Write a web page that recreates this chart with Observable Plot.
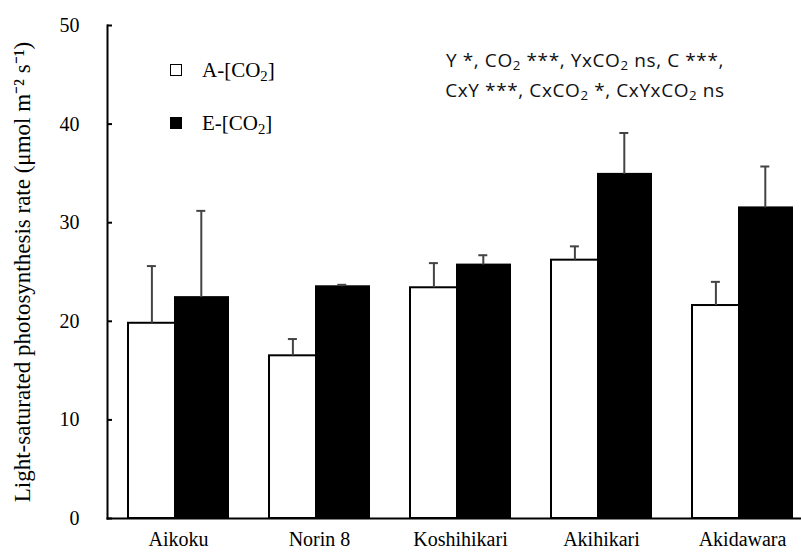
<!DOCTYPE html>
<html><head><meta charset="utf-8">
<script src="https://cdn.jsdelivr.net/npm/d3@7"></script>
<script src="https://cdn.jsdelivr.net/npm/@observablehq/plot@0.6"></script>
<style>
body{margin:0;background:#fff;}
#wrap{position:relative;width:801px;height:554px;}
.legend{position:absolute;left:170px;font-family:"Liberation Serif",serif;font-size:21px;color:#000;display:flex;align-items:center;height:20px;}
.legend .sw{width:10px;height:10px;border:1.5px solid #000;margin-right:20px;box-sizing:content-box;}
sub{font-size:0.7em;vertical-align:-0.25em;line-height:0;}
.note{position:absolute;left:420px;width:330px;top:45px;text-align:center;font-family:"Open Sans",sans-serif;font-size:19px;letter-spacing:0.6px;line-height:30px;color:#111;}
</style></head>
<body><div id="wrap"></div>
<script>
const categories = ["Aikoku", "Norin 8", "Koshihikari", "Akihikari", "Akidawara"];
const ambient = [19.8, 16.5, 23.4, 26.2, 21.6];
const ambientErr = [5.8, 1.7, 2.5, 1.4, 2.4];
const elevated = [22.4, 23.5, 25.7, 34.9, 31.5];
const elevatedErr = [8.8, 0.2, 1.0, 4.2, 4.2];
const yTicks = [0, 10, 20, 30, 40, 50];
const yLabel = "Light-saturated photosynthesis rate (μmol m⁻² s⁻¹)";

const table = categories.map((c, i) => ({
  category: c,
  ambient: ambient[i], ambientTop: ambient[i] + ambientErr[i],
  elevated: elevated[i], elevatedTop: elevated[i] + elevatedErr[i]
}));

const errColor = "#444";
const chart = Plot.plot({
  width: 801, height: 554,
  marginLeft: 107, marginRight: 1, marginTop: 25, marginBottom: 36,
  style: {fontFamily: "'Liberation Serif', serif", fontSize: "20px", color: "#000", background: "#fff"},
  x: {domain: categories, paddingInner: 0.29, paddingOuter: 0.1, align: 0.715, label: null},
  y: {domain: [0, 50], label: null},
  marks: [
    Plot.barY(table, {x: "category", y: "ambient", fill: "white", stroke: "black", strokeWidth: 2, insetRight: 53}),
    Plot.barY(table, {x: "category", y: "elevated", fill: "black", stroke: "black", strokeWidth: 2, insetLeft: 47}),
    Plot.ruleX(table, {x: "category", y1: "ambient", y2: "ambientTop", dx: -26.6, stroke: errColor, strokeWidth: 2}),
    Plot.tickY(table, {x: "category", y: "ambientTop", dx: -26.6, insetLeft: 45.5, insetRight: 45.5, stroke: errColor, strokeWidth: 2}),
    Plot.ruleX(table, {x: "category", y1: "elevated", y2: "elevatedTop", dx: 22.8, stroke: errColor, strokeWidth: 2}),
    Plot.tickY(table, {x: "category", y: "elevatedTop", dx: 22.8, insetLeft: 45.5, insetRight: 45.5, stroke: errColor, strokeWidth: 2}),
    Plot.frame({anchor: "left", stroke: "black", strokeWidth: 2}),
    Plot.frame({anchor: "bottom", stroke: "black", strokeWidth: 2}),
    Plot.axisY(yTicks, {tickSize: -5, tickPadding: 33, strokeWidth: 2, label: null, fontSize: 20}),
    Plot.axisX({tickSize: 0, tickPadding: 13, fontSize: 20, label: null}),
    Plot.text([yLabel], {text: d => d, frameAnchor: "left", textAnchor: "middle", lineAnchor: "middle", rotate: -90, dx: -85, fontSize: 23, fill: "#000"})
  ]
});

const wrap = document.getElementById("wrap");
wrap.appendChild(chart);

const legendItems = [
  {name: "A-[CO", sub: "2", tail: "]", fill: "#fff", top: 60},
  {name: "E-[CO", sub: "2", tail: "]", fill: "#000", top: 113}
];
for (const it of legendItems) {
  const d = document.createElement("div");
  d.className = "legend";
  d.style.top = it.top + "px";
  const sw = document.createElement("span");
  sw.className = "sw";
  sw.style.background = it.fill;
  d.appendChild(sw);
  const t = document.createElement("span");
  t.innerHTML = it.name + "<sub>" + it.sub + "</sub>" + it.tail;
  d.appendChild(t);
  wrap.appendChild(d);
}

const noteLines = [
  "Y *, CO<sub>2</sub> ***, YxCO<sub>2</sub> ns, C ***,",
  "CxY ***, CxCO<sub>2</sub> *, CxYxCO<sub>2</sub> ns"
];
const note = document.createElement("div");
note.className = "note";
note.innerHTML = noteLines.join("<br>");
wrap.appendChild(note);
</script>
</body></html>
